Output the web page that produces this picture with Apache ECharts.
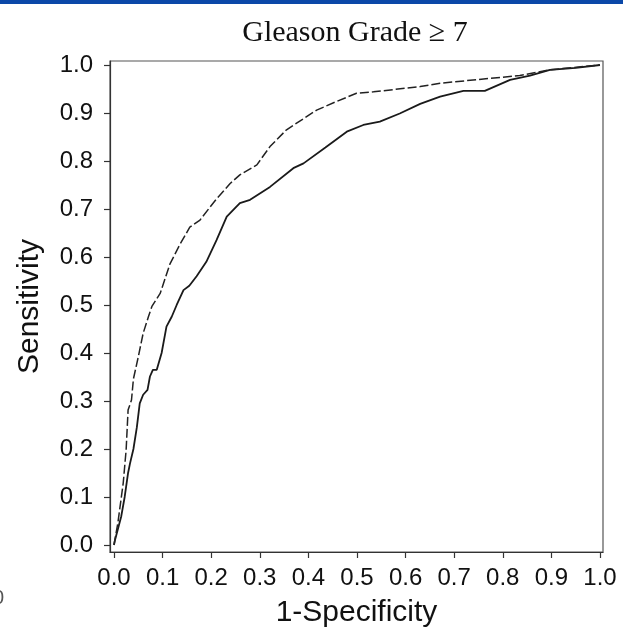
<!DOCTYPE html>
<html>
<head>
<meta charset="utf-8">
<script src="https://cdn.jsdelivr.net/npm/echarts@6/dist/echarts.min.js"></script>
<style>html,body{margin:0;padding:0;background:#fff;}#c{width:623px;height:638px;}</style>
</head>
<body>
<div id="c"></div>
<script>
const titleText = 'Gleason Grade \u2265 7';
const xName = '1-Specificity';
const yName = 'Sensitivity';
const tickValues = [0,0.1,0.2,0.3,0.4,0.5,0.6,0.7,0.8,0.9,1.0];

const solidX = [0,0.002,0.015,0.022,0.029,0.033,0.04,0.047,0.053,0.06,0.069,0.074,0.08,0.088,0.098,0.108,0.119,0.129,0.143,0.155,0.17,0.19,0.211,0.232,0.259,0.28,0.321,0.369,0.39,0.435,0.479,0.513,0.547,0.588,0.63,0.671,0.719,0.763,0.815,0.856,0.897,0.95,1.0];
const solidY = [0,0.01,0.06,0.1,0.15,0.17,0.2,0.245,0.295,0.313,0.323,0.351,0.365,0.365,0.4,0.455,0.476,0.5,0.531,0.54,0.56,0.59,0.635,0.684,0.712,0.719,0.746,0.785,0.795,0.828,0.861,0.875,0.882,0.899,0.919,0.934,0.946,0.946,0.969,0.978,0.99,0.994,1.0];

const dashX = [0,0.008,0.019,0.025,0.029,0.036,0.04,0.05,0.06,0.071,0.078,0.095,0.115,0.135,0.156,0.177,0.21,0.239,0.259,0.294,0.321,0.355,0.417,0.458,0.499,0.534,0.63,0.671,0.835,0.897,1.0];
const dashY = [0,0.046,0.129,0.198,0.281,0.302,0.346,0.392,0.441,0.476,0.497,0.524,0.585,0.625,0.662,0.677,0.72,0.753,0.771,0.792,0.83,0.865,0.906,0.924,0.941,0.944,0.955,0.962,0.978,0.99,1.0];

const toPairs = (xs, ys) => xs.map((x, i) => [x, ys[i]]);

const chart = echarts.init(document.getElementById('c'), null, {renderer: 'canvas'});
const axisCommon = {
  type: 'value',
  nameLocation: 'middle',
  splitLine: {show: false},
  axisLine: {show: true, onZero: false, lineStyle: {color: '#333', width: 1.2}},
  axisTick: {show: true, inside: false, length: 6, lineStyle: {color: '#333', width: 1.2}, customValues: tickValues},
};
chart.setOption({
  animation: false,
  backgroundColor: '#fff',
  title: {
    text: titleText, left: 350, top: 28, textAlign: 'center', textVerticalAlign: 'middle',
    textStyle: {fontFamily: 'Liberation Serif', fontWeight: 'normal', fontSize: 30, color: '#111'}
  },
  graphic: [
    {type: 'rect', shape: {x: 0, y: 0, width: 623, height: 4}, style: {fill: '#0b48a8'}, silent: true},
    {type: 'text', style: {text: '0', x: 4, y: 598, align: 'right', verticalAlign: 'middle', font: '20px "Liberation Sans"', fill: '#555'}, silent: true}
  ],
  grid: {left: 110, top: 61, right: 20, bottom: 86, show: true, borderColor: '#555', borderWidth: 1.2, containLabel: false},
  xAxis: Object.assign({}, axisCommon, {
    min: -0.0082, max: 1.0062,
    name: xName, nameGap: 61,
    nameTextStyle: {fontFamily: 'Liberation Sans', fontSize: 30, color: '#111', verticalAlign: 'middle'},
    axisLabel: {customValues: tickValues, formatter: v => v.toFixed(1), margin: 26, verticalAlign: 'middle',
      fontFamily: 'Liberation Sans', fontSize: 24, color: '#111'}
  }),
  yAxis: Object.assign({}, axisCommon, {
    min: -0.0146, max: 1.0083,
    name: yName, nameGap: 80, nameRotate: 90,
    nameTextStyle: {fontFamily: 'Liberation Sans', fontSize: 30, color: '#111', verticalAlign: 'middle'},
    axisLabel: {customValues: tickValues, formatter: v => v.toFixed(1), margin: 17,
      fontFamily: 'Liberation Sans', fontSize: 24, color: '#111'}
  }),
  series: [
    {type: 'line', name: 'solid', data: toPairs(solidX, solidY), showSymbol: false, smooth: false,
      lineStyle: {color: '#1a1a1a', width: 1.8, type: 'solid'}},
    {type: 'line', name: 'dashed', data: toPairs(dashX, dashY), showSymbol: false, smooth: false,
      lineStyle: {color: '#222', width: 1.5, type: [9, 3]}}
  ]
});
</script>
</body>
</html>
